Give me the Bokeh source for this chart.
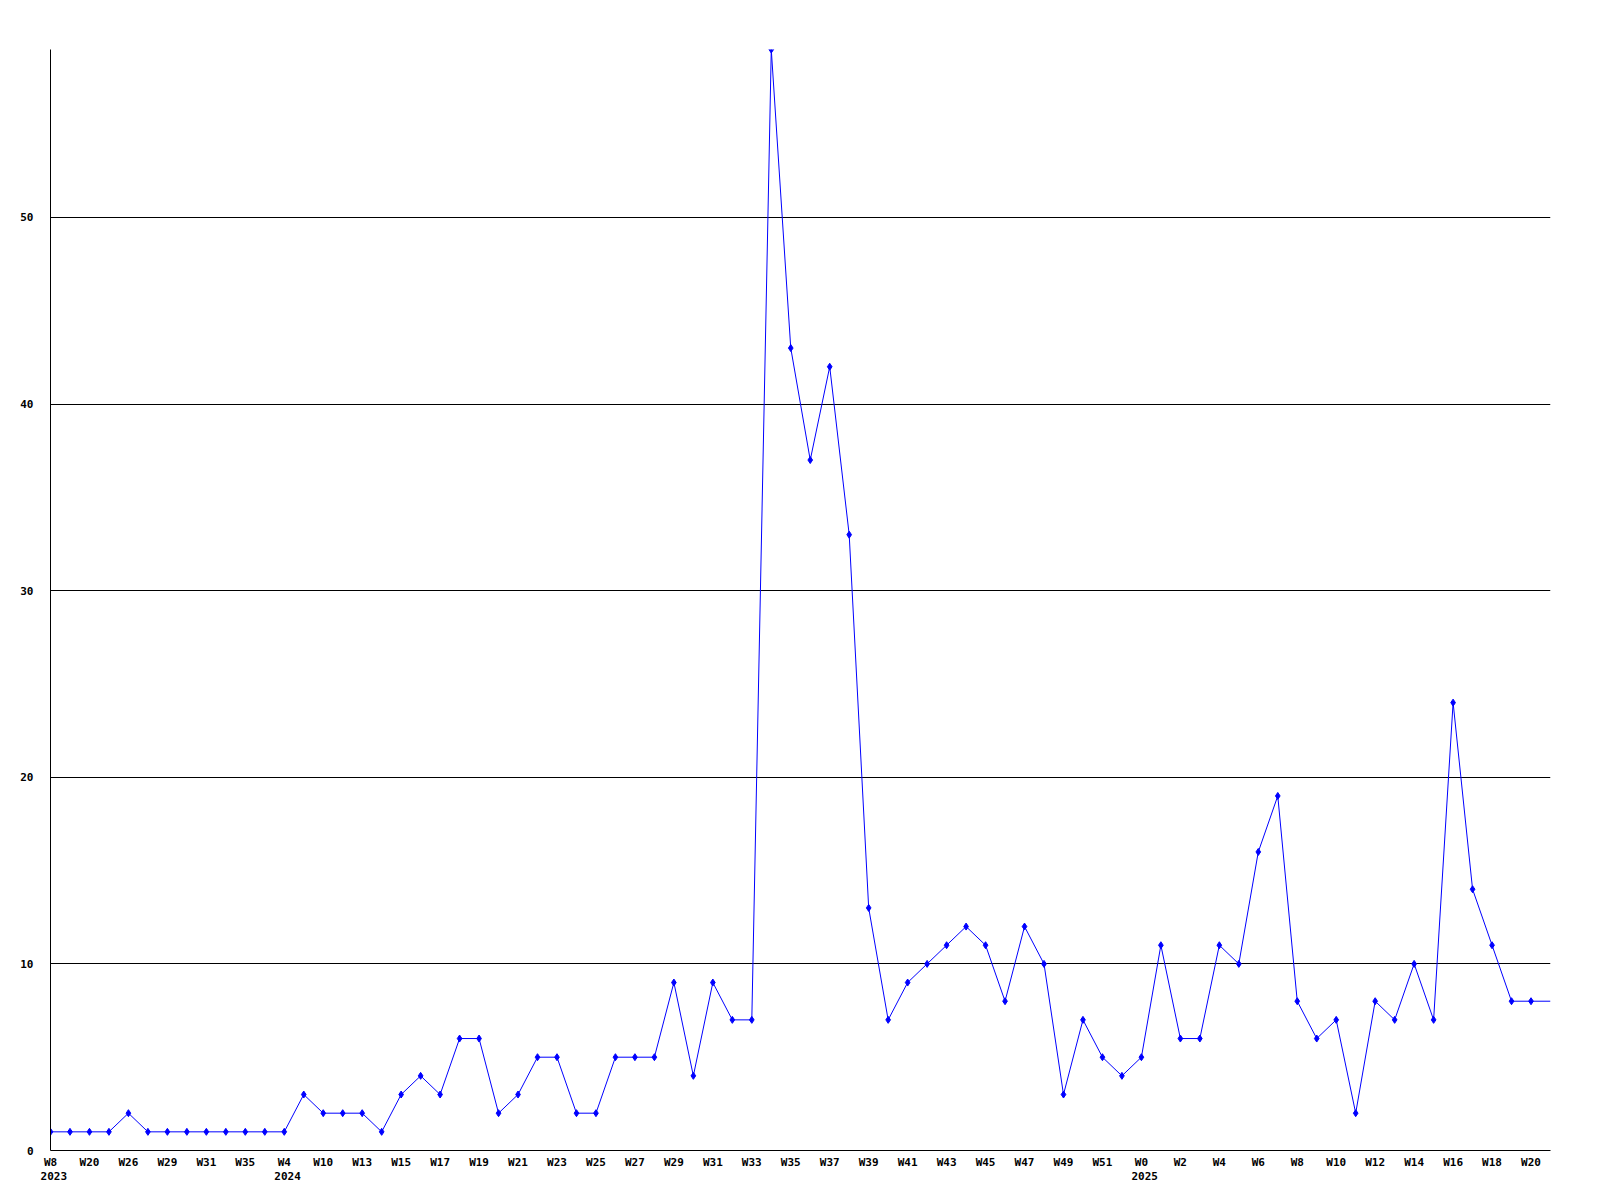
from bokeh.plotting import figure
from bokeh.models import Range1d, FixedTicker, LinearAxis
from bokeh.embed import file_html
from bokeh.resources import INLINE

# ---- data ----
values = [1, 1, 1, 1, 2, 1, 1, 1, 1, 1, 1, 1, 1, 3, 2, 2, 2, 1, 3, 4,
          3, 6, 6, 2, 3, 5, 5, 2, 2, 5, 5, 5, 9, 4, 9, 7, 7, 59, 43, 37,
          42, 33, 13, 7, 9, 10, 11, 12, 11, 8, 12, 10, 3, 7, 5, 4, 5, 11, 6, 6,
          11, 10, 16, 19, 8, 6, 7, 2, 8, 7, 10, 7, 24, 14, 11, 8, 8, 8]

week_labels = ["W8", "W20", "W26", "W29", "W31", "W35", "W4", "W10", "W13", "W15",
               "W17", "W19", "W21", "W23", "W25", "W27", "W29", "W31", "W33", "W35",
               "W37", "W39", "W41", "W43", "W45", "W47", "W49", "W51", "W0", "W2",
               "W4", "W6", "W8", "W10", "W12", "W14", "W16", "W18", "W20"]
week_label_pos = list(range(0, 77, 2))

year_labels = ["2023", "2024", "2025"]
year_label_pos = [0, 12, 56]

y_ticks = [0, 10, 20, 30, 40, 50]

xs = list(range(len(values)))

FONT = "DejaVu Sans Mono"
FSIZE = "11px"
YEAR_SHIFT = 0.17  # year labels sit slightly right of their week label's centre

x_end = len(values) - 1
p = figure(frame_width=1500, frame_height=1101,
           min_border_left=50, min_border_right=40, min_border_top=49, min_border_bottom=10,
           output_backend="svg", toolbar_location=None,
           x_range=Range1d(0, x_end), y_range=Range1d(0, max(values)))
p.extra_x_ranges = {"yr": Range1d(-YEAR_SHIFT, x_end - YEAR_SHIFT)}
p.outline_line_color = None
p.background_fill_color = "white"
p.border_fill_color = "white"

# grid
p.xgrid.grid_line_color = None
p.ygrid.ticker = FixedTicker(ticks=y_ticks[1:])
p.ygrid.grid_line_color = "black"
p.ygrid.grid_line_width = 1

# y axis
p.yaxis.ticker = FixedTicker(ticks=y_ticks)
p.yaxis.axis_line_color = "black"
p.yaxis.major_tick_line_color = None
p.yaxis.minor_tick_line_color = None
p.yaxis.major_tick_out = 0
p.yaxis.major_tick_in = 0
p.yaxis.major_label_text_font = FONT
p.yaxis.major_label_text_font_style = "bold"
p.yaxis.major_label_text_font_size = FSIZE
p.yaxis.major_label_text_color = "black"
p.yaxis.major_label_standoff = 17


def style_x(ax, standoff):
    ax.major_tick_line_color = None
    ax.minor_tick_line_color = None
    ax.major_tick_out = 0
    ax.major_tick_in = 0
    ax.minor_tick_out = 0
    ax.major_label_text_font = FONT
    ax.major_label_text_font_style = "bold"
    ax.major_label_text_font_size = FSIZE
    ax.major_label_text_color = "black"
    ax.major_label_standoff = standoff


# week axis (default x axis)
wax = p.xaxis[0]
wax.ticker = FixedTicker(ticks=week_label_pos)
wax.major_label_overrides = {pos: lab for pos, lab in zip(week_label_pos, week_labels)}
wax.axis_line_color = "black"
style_x(wax, 5)

# year axis
yax = LinearAxis(x_range_name="yr", ticker=FixedTicker(ticks=year_label_pos),
                 major_label_overrides={pos: lab for pos, lab in zip(year_label_pos, year_labels)})
yax.axis_line_color = None
style_x(yax, 0)
p.add_layout(yax, "below")

# series
p.line(xs, values, line_color="#0000ff", line_width=1)
p.scatter(xs[:-1], values[:-1], marker="diamond", size=7,
          fill_color="#0000ff", line_color="#0000ff", line_width=1)

open("out.html", "w").write(file_html(p, INLINE))
